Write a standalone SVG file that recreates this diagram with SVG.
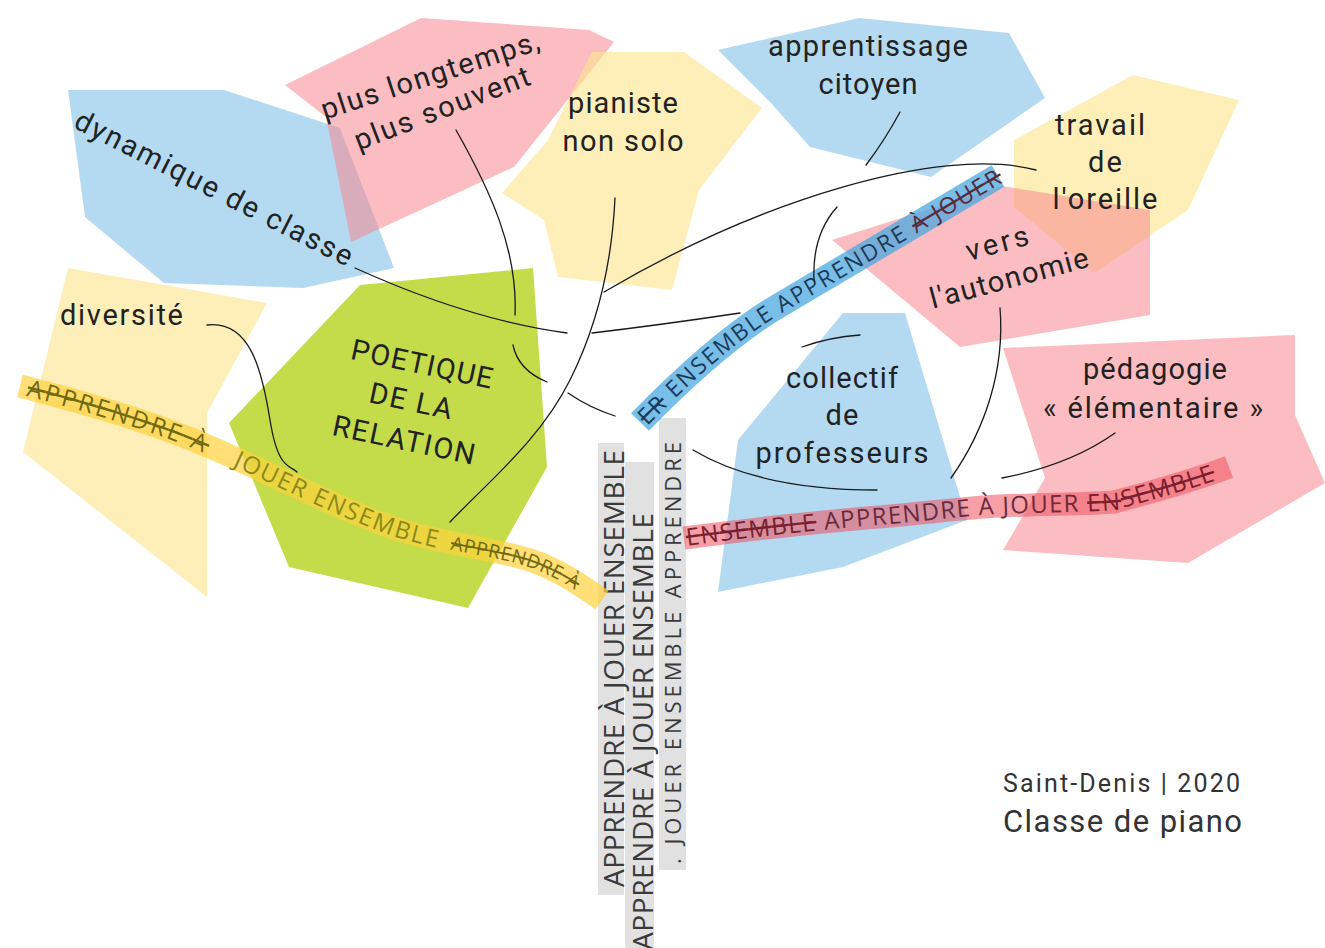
<svg xmlns="http://www.w3.org/2000/svg" width="1325" height="948" viewBox="0 0 1325 948">
<defs>
<style>
.b{fill:#8cc6ea;fill-opacity:.65}
.p{fill:#f7868e;fill-opacity:.55}
.y{fill:#fde58a;fill-opacity:.6}
.g{fill:#c4dc4a}
.lbl{font-family:Roboto,"Liberation Sans",sans-serif;font-size:29px;fill:#222;text-anchor:middle}
.cap{font-family:Roboto,"Liberation Sans",sans-serif;font-size:29px;fill:#222;text-anchor:middle}
.band{fill:none;stroke-linecap:butt;stroke-linejoin:round}
.bt{font-family:"Open Sans","DejaVu Sans",sans-serif}
.st{text-decoration:line-through}
.trunk{font-family:"Open Sans","DejaVu Sans",sans-serif;fill:#3a3a3a}
.con{fill:none;stroke:#1a1a1a;stroke-width:1.3;stroke-linecap:round}
</style>
<path id="yband" d="M20,386 C90,404 160,425 210,447 C270,473 340,510 400,530 C450,545 500,550 530,560 C560,570 585,588 602,600"/>
<path id="bband" d="M640,422 Q720,340 780,305 T998,176"/>
<path id="rband" d="M684,538 C760,528 820,522 866,518 C920,514 960,508 1000,506 C1050,504 1090,504 1114,502 C1160,490 1200,478 1229,467"/>
</defs>
<rect width="1325" height="948" fill="#ffffff"/>

<g id="shapes">
<polygon class="b" points="68,90 224,90 340,128 394,268 303,288 164,283 85,217"/>
<polygon class="p" points="285,85 421,18 589,30 614,42 514,167 351,242 326,117"/>
<polygon class="y" points="592,52 684,52 762,108 699,190 672,290 558,277 544,220 502,193 548,140"/>
<polygon class="b" points="718,50 859,18 1009,33 1045,98 931,177 810,147 771,103"/>
<polygon class="y" points="1014,140 1133,75 1239,100 1188,210 1094,273 1014,207"/>
<polygon class="p" points="832,240 1002,186 1150,210 1150,315 960,347"/>
<polygon class="b" points="843,313 905,313 967,520 843,567 718,592 738,440"/>
<polygon class="p" points="1003,348 1295,335 1295,415 1325,483 1188,563 1003,550 1045,478"/>
<polygon class="y" points="68,268 267,303 207,413 207,597 23,452"/>
<polygon class="g" points="360,285 533,268 547,467 468,608 289,567 229,423"/>
</g>

<g id="trunk">
<rect x="598" y="443" width="26" height="452" fill="#e1e1e1"/>
<rect x="625" y="462" width="29" height="486" fill="#e1e1e1"/>
<rect x="659" y="418" width="27" height="452" fill="#e1e1e1"/>
<text class="trunk" font-size="28" transform="translate(624,887) rotate(-90)" textLength="437" lengthAdjust="spacing">APPRENDRE À JOUER ENSEMBLE</text>
<text class="trunk" font-size="28" transform="translate(653,950) rotate(-90)" textLength="437" lengthAdjust="spacing">APPRENDRE À JOUER ENSEMBLE</text>
<text class="trunk" font-size="22" transform="translate(681,864) rotate(-90)" textLength="422" lengthAdjust="spacing">. JOUER ENSEMBLE APPRENDRE</text>
</g>

<g id="bands">
<use href="#yband" class="band" stroke="#ffd23c" stroke-opacity=".7" stroke-width="23"/>
<use href="#bband" class="band" stroke="#4aa8e0" stroke-opacity=".75" stroke-width="25"/>
<use href="#rband" class="band" stroke="#f0505c" stroke-opacity=".55" stroke-width="23"/>
<text class="bt" font-size="24" fill="#6f6a14" letter-spacing="3" dy="8"><textPath href="#yband" startOffset="8"><tspan class="st">APPRENDRE À</tspan></textPath></text>
<text class="bt" font-size="24" fill="#8a8a1c" letter-spacing="1.6" dy="8"><textPath href="#yband" startOffset="228">JOUER ENSEMBLE</textPath></text>
<text class="bt" font-size="19" fill="#6f6a14" letter-spacing="1" dy="7"><textPath href="#yband" startOffset="460"><tspan class="st">APPRENDRE À</tspan></textPath></text>
<text class="bt" font-size="23" fill="#1d3a58" letter-spacing="2" dy="8"><textPath href="#bband" startOffset="2"><tspan class="st">ER</tspan> ENSEMBLE APPRENDRE <tspan class="st" fill="#5a2a3a">À JOUER</tspan></textPath></text>
<text class="bt" font-size="24" fill="#6a2a3c" letter-spacing="1.3" dy="8"><textPath href="#rband" startOffset="2"><tspan class="st" fill="#7a1f2e">ENSEMBLE</tspan> APPRENDRE À JOUER <tspan class="st" fill="#7a1f2e">ENSEMBLE</tspan></textPath></text>
</g>

<g id="connectors">
<path class="con" d="M355,268 Q470,320 567,333"/>
<path class="con" d="M592,333 Q660,325 740,313"/>
<path class="con" d="M1036,170 C940,145 760,200 604,292"/>
<path class="con" d="M615,198 C612,260 600,320 570,380 S490,480 450,522"/>
<path class="con" d="M456,130 C490,190 518,250 515,315"/>
<path class="con" d="M513,345 Q518,370 547,382"/>
<path class="con" d="M568,393 Q590,408 615,416"/>
<path class="con" d="M900,112 Q885,140 866,165"/>
<path class="con" d="M837,207 Q812,235 814,280"/>
<path class="con" d="M802,347 Q830,337 860,335"/>
<path class="con" d="M693,450 Q760,490 877,490"/>
<path class="con" d="M1000,308 C1005,370 985,430 951,478"/>
<path class="con" d="M1115,433 Q1070,465 1002,478"/>
<path class="con" d="M207,325 C250,320 262,370 270,420 S290,465 297,472"/>
</g>

<g id="n-dynamique"><text class="lbl" x="214" y="198" transform="rotate(27 214 188)" textLength="308">dynamique de classe</text></g>
<g id="n-longtemps">
<text class="lbl" x="430" y="85" transform="rotate(-18 430 75)" textLength="228">plus longtemps,</text>
<text class="lbl" x="442" y="118" transform="rotate(-21 442 108)" textLength="186">plus souvent</text>
</g>
<g id="n-pianiste">
<text class="lbl" x="623" y="113" textLength="110">pianiste</text>
<text class="lbl" x="623" y="151" textLength="121">non solo</text>
</g>
<g id="n-citoyen">
<text class="lbl" x="868" y="56" textLength="200">apprentissage</text>
<text class="lbl" x="868" y="94" textLength="99">citoyen</text>
</g>
<g id="n-oreille">
<text class="lbl" x="1100" y="135" textLength="90">travail</text>
<text class="lbl" x="1105" y="172" textLength="34">de</text>
<text class="lbl" x="1105" y="209" textLength="105">l'oreille</text>
</g>
<g id="n-autonomie">
<text class="lbl" x="997" y="253" transform="rotate(-15 997 243)" textLength="64">vers</text>
<text class="lbl" x="1009" y="288" transform="rotate(-15 1009 278)" textLength="163">l'autonomie</text>
</g>
<g id="n-diversite"><text class="lbl" x="60" y="325" style="text-anchor:start" textLength="123">diversité</text></g>
<g id="n-poetique">
<text class="cap" x="422" y="374" transform="rotate(12 422 364)" textLength="144">POETIQUE</text>
<text class="cap" x="411" y="411" transform="rotate(12 411 401)" textLength="84">DE LA</text>
<text class="cap" x="404" y="450" transform="rotate(12 404 440)" textLength="145">RELATION</text>
</g>
<g id="n-collectif">
<text class="lbl" x="842" y="388" textLength="112">collectif</text>
<text class="lbl" x="842" y="425" textLength="33">de</text>
<text class="lbl" x="842" y="463" textLength="173">professeurs</text>
</g>
<g id="n-pedagogie">
<text class="lbl" x="1155" y="379" textLength="144">pédagogie</text>
<text class="lbl" x="1153" y="418" textLength="220">« élémentaire »</text>
</g>
<g id="credit">
<text x="1003" y="792" font-family="Roboto,'Liberation Sans',sans-serif" font-size="25" fill="#333" textLength="237">Saint-Denis  |  2020</text>
<text x="1003" y="832" font-family="Roboto,'Liberation Sans',sans-serif" font-size="31" fill="#333" textLength="239">Classe de piano</text>
</g>
</svg>
